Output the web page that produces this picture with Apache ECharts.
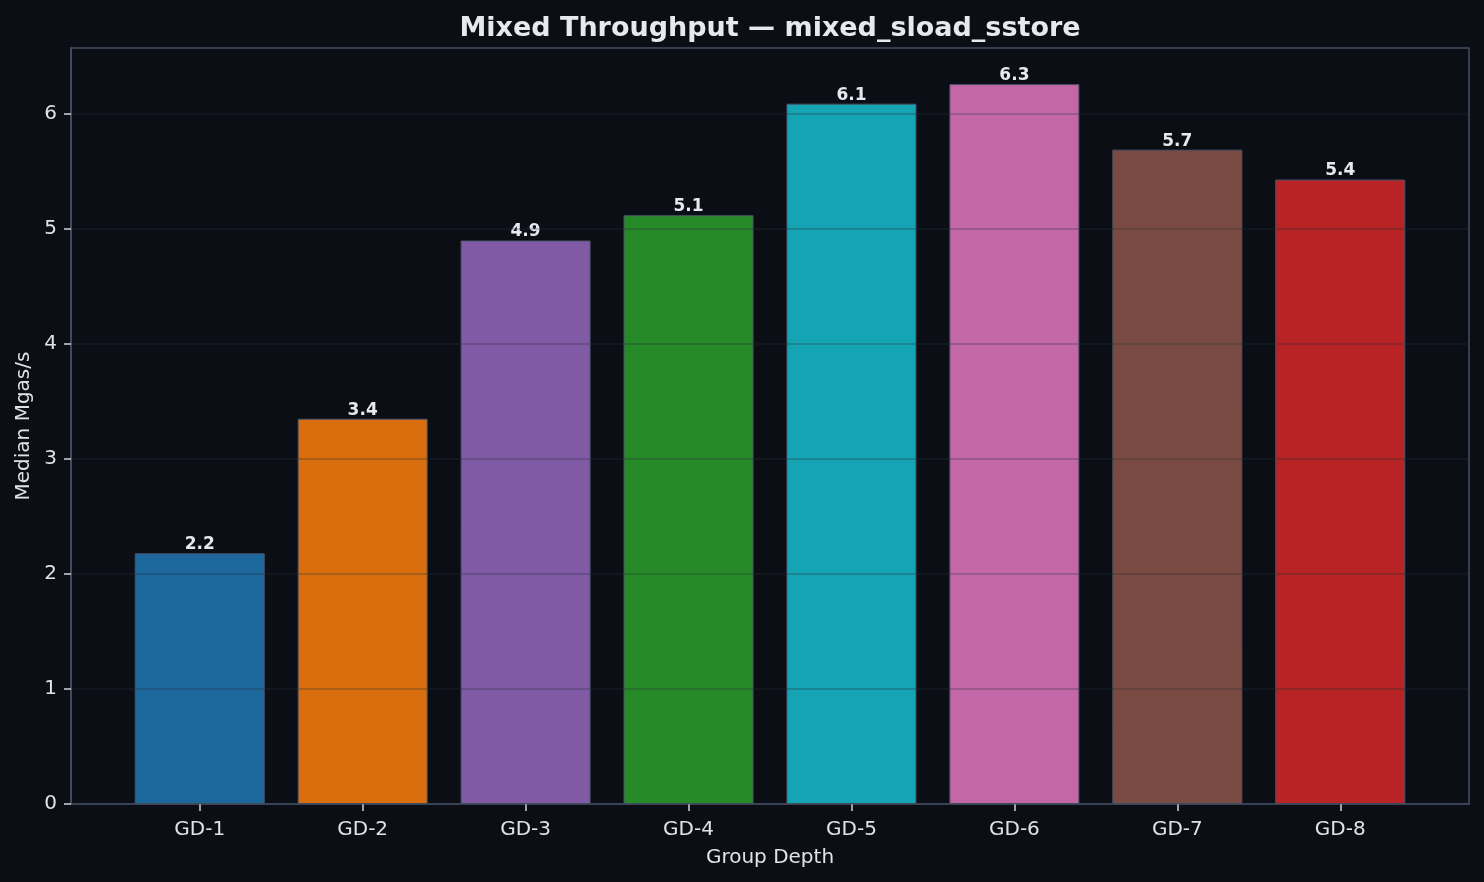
<!DOCTYPE html>
<html>
<head>
<meta charset="utf-8">
<script src="https://cdn.jsdelivr.net/npm/echarts@6/dist/echarts.min.js"></script>
<style>
html,body{margin:0;padding:0;background:#0b0e15;}
#chart{width:1484px;height:882px;}
</style>
</head>
<body>
<div id="chart"></div>
<script>
const categories = ['GD-1','GD-2','GD-3','GD-4','GD-5','GD-6','GD-7','GD-8'];
const values = [2.18, 3.35, 4.90, 5.12, 6.09, 6.26, 5.69, 5.43];
const barColors = ['#1c679c','#da6e0f','#805aa4','#278a28','#15a4b3','#c367a8','#794b43','#b82325'];
const yTicks = [0,1,2,3,4,5,6];
const xTicks = categories.map((c,i)=>i);

const FONT = 'DejaVu Sans';
const chart = echarts.init(document.getElementById('chart'));
chart.setOption({
  backgroundColor: '#0b0e15',
  animation: false,
  textStyle: {fontFamily: FONT},
  title: {
    text: 'Mixed Throughput — mixed_sload_sstore',
    left: 765, top: 10, textAlign: 'center',
    textStyle: {color: '#e6e9ef', fontSize: 27, fontWeight: 'bold', fontFamily: FONT}
  },
  grid: {
    left: 71, right: 15, top: 48, bottom: 78,
    show: true, borderColor: '#465064', borderWidth: 1.5, backgroundColor: '#0b0e15'
  },
  xAxis: {
    type: 'value', min: -0.79, max: 7.79,
    name: 'Group Depth', nameLocation: 'middle', nameGap: 44,
    nameTextStyle: {color: '#dfe2e8', fontSize: 20, fontFamily: FONT},
    axisLine: {show: true, onZero: false, lineStyle: {color: '#465064', width: 1.5}},
    axisTick: {show: true, customValues: xTicks, length: 7, lineStyle: {color: '#cfd3da', width: 1.5}},
    axisLabel: {
      customValues: xTicks, margin: 16, color: '#dfe2e8', fontSize: 20, fontFamily: FONT,
      formatter: v => categories[Math.round(v)] || ''
    },
    splitLine: {show: false}
  },
  yAxis: {
    type: 'value', min: 0, max: 6.574, z: 5,
    name: 'Median Mgas/s', nameLocation: 'middle', nameGap: 36, nameRotate: 90,
    nameTextStyle: {color: '#dfe2e8', fontSize: 20, fontFamily: FONT},
    axisLine: {show: true, onZero: false, lineStyle: {color: '#465064', width: 1.5}},
    axisTick: {show: true, customValues: yTicks, length: 7, lineStyle: {color: '#cfd3da', width: 1.5}},
    axisLabel: {customValues: yTicks, margin: 14, color: '#dfe2e8', fontSize: 20, fontFamily: FONT},
    splitLine: {show: true, lineStyle: {color: 'rgba(40,45,60,0.35)', width: 1.5}}
  },
  series: [{
    type: 'bar',
    barWidth: 130,
    z: 2,
    data: values.map((v,i)=>({
      value: [i, v],
      itemStyle: {color: barColors[i], borderColor: '#4a5568', borderWidth: 1}
    })),
    label: {
      show: true, position: 'top', distance: 0,
      color: '#e6e9ef', fontSize: 17, fontWeight: 'bold', fontFamily: FONT,
      formatter: p => p.value[1].toFixed(1)
    }
  }]
});
</script>
</body>
</html>
